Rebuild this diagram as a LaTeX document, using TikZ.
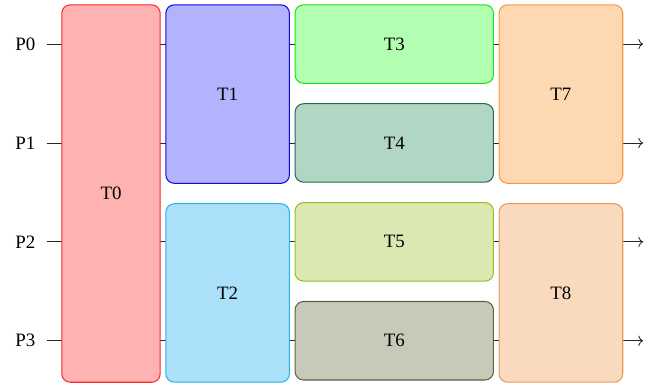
\documentclass[tikz,border=0pt]{standalone}
\usepackage{fontspec}
\setmainfont{Liberation Serif}
\usepackage{xcolor}
\usepackage{tikz}
\usetikzlibrary{arrows.meta,calc,positioning,backgrounds}
\definecolor{stagezero}{RGB}{255,178,178}
\definecolor{stagezeroline}{RGB}{250,40,40}
\definecolor{stageone}{RGB}{178,178,255}
\definecolor{stageoneline}{RGB}{10,10,225}
\definecolor{stagetwo}{RGB}{170,224,250}
\definecolor{stagetwoline}{RGB}{40,180,230}
\definecolor{stagethree}{RGB}{178,255,178}
\definecolor{stagethreeline}{RGB}{30,225,30}
\definecolor{stagefour}{RGB}{178,214,196}
\definecolor{stagefourline}{RGB}{30,110,80}
\definecolor{stagefive}{RGB}{220,232,178}
\definecolor{stagefiveline}{RGB}{150,190,30}
\definecolor{stagesix}{RGB}{200,202,185}
\definecolor{stagesixline}{RGB}{90,100,60}
\definecolor{stageseven}{RGB}{254,216,177}
\definecolor{stagesevenline}{RGB}{250,150,60}
\definecolor{stageeight}{RGB}{250,218,190}
\definecolor{stageeightline}{RGB}{235,150,90}
\definecolor{wireink}{gray}{0.15}

\begin{document}
\begin{tikzpicture}[
  task/.style={rounded corners=4.5pt,line width=.55pt,inner sep=0pt},
  tall/.style={task,minimum width=2.30cm,minimum height=3.32cm},
  flat/.style={task,minimum width=3.69cm,minimum height=1.46cm},
  plabel/.style={inner xsep=6pt,inner ysep=2pt},
  wire/.style={draw=wireink,line width=.45pt}]
\useasboundingbox (0,0) rectangle (12.22,-7.217);
\node[task,minimum width=1.83cm,minimum height=7.02cm,fill=stagezero,draw=stagezeroline,
  anchor=north west] (t0) at (1.14,-0.08) {T0};
\node[tall,fill=stageone,draw=stageoneline,below right=0cm and 0.085cm of t0.north east] (t1) {T1};
\node[tall,fill=stagetwo,draw=stagetwoline,below=0.36cm of t1] (t2) {T2};
\node[flat,fill=stagethree,draw=stagethreeline,below right=0cm and 0.085cm of t1.north east] (t3) {T3};
\node[flat,fill=stagefour,draw=stagefourline,below=0.36cm of t3] (t4) {T4};
\node[flat,fill=stagefive,draw=stagefiveline,below=0.36cm of t4] (t5) {T5};
\node[flat,fill=stagesix,draw=stagesixline,below=0.36cm of t5] (t6) {T6};
\node[tall,fill=stageseven,draw=stagesevenline,below right=0cm and 0.085cm of t3.north east] (t7) {T7};
\node[tall,fill=stageeight,draw=stageeightline,below=0.36cm of t7] (t8) {T8};
% one wire per pipe, behind the tasks
\foreach \i/\t in {0/t3,1/t4,2/t5,3/t6}{
  \node[plabel] (p\i) at ($(t0.west |- \t)+(-0.67,0)$) {P\i};
  \coordinate (o\i) at ($(t7.east |- \t)+(0.37,0)$);
  \begin{scope}[on background layer]
    \draw[wire,->] (p\i) -- (o\i);
  \end{scope}
}
\end{tikzpicture}
\end{document}
